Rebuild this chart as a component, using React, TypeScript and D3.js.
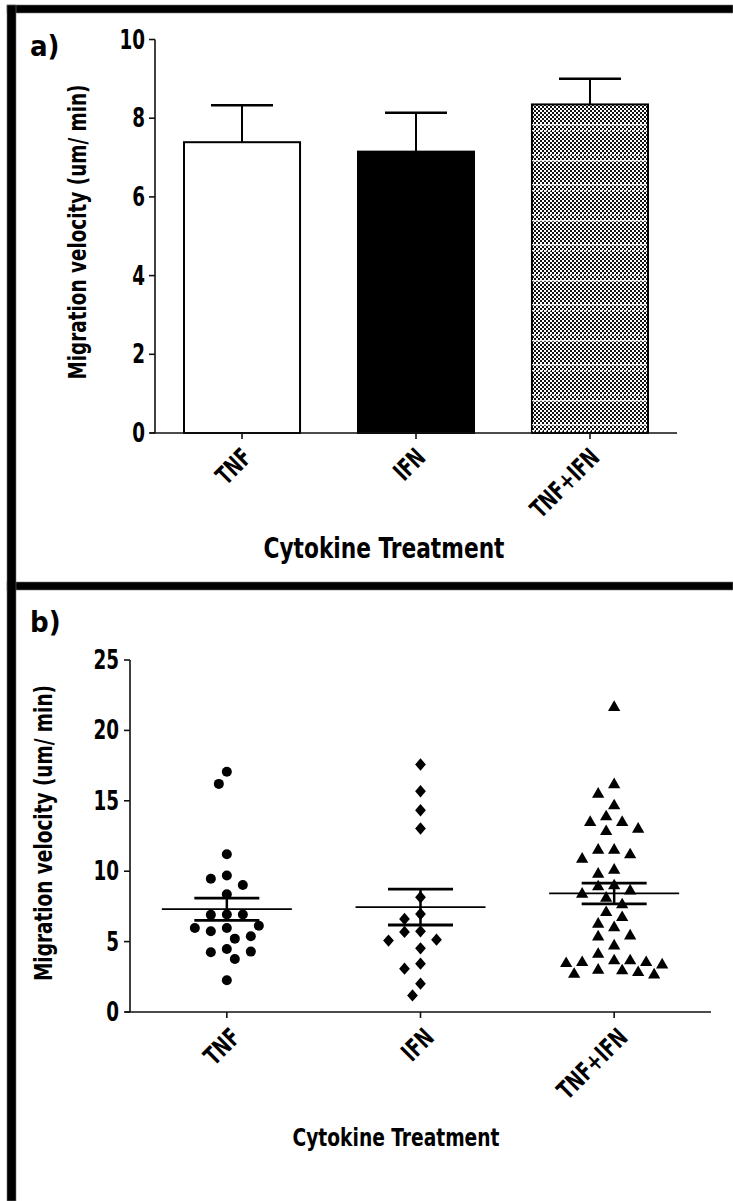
import React from 'react'
import * as d3 from 'd3'

const categories = ['TNF', 'IFN', 'TNF+IFN']

// panel a: bar means and upper error
const barMeans = [7.39, 7.15, 8.35]
const barErrors = [0.94, 0.99, 0.65]
const barTicks = [0, 2, 4, 6, 8, 10]

// panel b: individual cell velocities
const tnfValues = [17.06, 16.2, 11.2, 9.69, 9.47, 9.02, 8.36, 6.92, 6.9, 6.93, 5.97, 5.73, 5.21, 5.38, 5.97, 6.13, 4.48, 4.24, 3.77, 4.29, 2.25]
const ifnValues = [17.58, 15.68, 14.33, 13.03, 8.15, 6.96, 6.61, 5.73, 5.69, 5.14, 5.07, 4.52, 3.43, 3.08, 2.01, 1.18]
const comboValues = [21.72, 16.23, 15.56, 14.73, 13.95, 13.55, 13.55, 13.07, 12.9, 11.58, 11.58, 11.25, 10.94, 10.16, 9.88, 9.05, 8.98, 8.69, 8.46, 8.17, 7.7, 7.15, 6.8, 6.33, 6.08, 5.49, 5.42, 4.78, 4.19, 3.72, 3.72, 3.6, 3.6, 3.53, 3.43, 3.06, 3.01, 2.89, 2.77, 2.72]
const scatterMeans = [7.3, 7.45, 8.42]
const scatterSems = [0.79, 1.27, 0.74]
const scatterTicks = [0, 5, 10, 15, 20, 25]

const font = "'Liberation Sans Narrow','DejaVu Sans Condensed','Arial Narrow',sans-serif"

const diamond = {
  draw(ctx, size) {
    const r = Math.sqrt(size) / 2
    ctx.moveTo(0, -r * 1.15)
    ctx.lineTo(r, 0)
    ctx.lineTo(0, r * 1.15)
    ctx.lineTo(-r, 0)
    ctx.closePath()
  }
}
const triangle = {
  draw(ctx, size) {
    const r = Math.sqrt(size) / 2
    ctx.moveTo(0, -r * 1.05)
    ctx.lineTo(r * 1.1, r * 0.85)
    ctx.lineTo(-r * 1.1, r * 0.85)
    ctx.closePath()
  }
}
const markers = [
  d3.symbol(d3.symbolCircle, Math.PI * 5 * 5)(),
  d3.symbol(diamond, 115)(),
  d3.symbol(triangle, 125)()
]

// simple beeswarm: greedy, half-slot steps
function swarm(values, y, step, d) {
  const placed = []
  return values.map(v => {
    const py = y(v)
    let dx = 0
    for (let i = 0; i < 40; i++) {
      const cands = i === 0 ? [0] : [-i * step, i * step]
      const ok = cands.find(c => placed.every(p => (p.dx - c) ** 2 + (p.y - py) ** 2 >= d * d))
      if (ok !== undefined) { dx = ok; break }
    }
    placed.push({ dx, y: py })
    return { v, dx, y: py }
  })
}

const PanelA = () => {
  const y = d3.scaleLinear().domain([0, 10]).range([433, 39.5])
  const x = d3.scaleBand().domain(categories).range([155, 677]).paddingInner(0.333).paddingOuter(0.1667)
  const x0 = 155
  const fills = ['#fff', '#000', 'url(#dots)']
  return (
    <g>
      {categories.map((c, i) => (
        <g key={c}>
          <line x1={x(c) + x.bandwidth() / 2} x2={x(c) + x.bandwidth() / 2} y1={y(barMeans[i])} y2={y(barMeans[i] + barErrors[i])} stroke="#000" strokeWidth={2} />
          <line x1={x(c) + x.bandwidth() / 2 - 31} x2={x(c) + x.bandwidth() / 2 + 31} y1={y(barMeans[i] + barErrors[i])} y2={y(barMeans[i] + barErrors[i])} stroke="#000" strokeWidth={2.5} />
          <rect x={x(c)} y={y(barMeans[i])} width={x.bandwidth()} height={y(0) - y(barMeans[i])} fill={fills[i]} stroke="#000" strokeWidth={2} />
          {i === 2 && <rect x={x(c)} y={y(barMeans[i])} width={x.bandwidth()} height={y(0) - y(barMeans[i])} fill="url(#stripes)" />}
        </g>
      ))}
      <line x1={x0} x2={x0} y1={y(10)} y2={y(0)} stroke="#111" strokeWidth={1.6} />
      <line x1={x0 - 5} x2={677} y1={y(0)} y2={y(0)} stroke="#111" strokeWidth={1.6} />
      {barTicks.map(t => (
        <g key={t}>
          <line x1={x0 - 6} x2={x0} y1={y(t)} y2={y(t)} stroke="#111" strokeWidth={1.6} />
          <text transform={`translate(${x0 - 10},${y(t) + 9}) scale(0.85,1.08)`} textAnchor="end" fontSize={24} fontWeight="bold" fontFamily={font}>{t}</text>
        </g>
      ))}
      {categories.map(c => {
        const cx = x(c) + x.bandwidth() / 2
        return (
          <g key={c}>
            <line x1={cx} x2={cx} y1={y(0)} y2={y(0) + 6} stroke="#111" strokeWidth={1.6} />
            <text transform={`translate(${cx + 11},${y(0) + 26}) rotate(-45) scale(0.8,1.05)`} textAnchor="end" fontSize={24} fontWeight="bold" fontFamily={font}>{c}</text>
          </g>
        )
      })}
      <text transform="translate(86,232) rotate(-90)" textAnchor="middle" fontSize={25} fontWeight="bold" fontFamily={font} textLength={295} lengthAdjust="spacingAndGlyphs">Migration velocity (um/ min)</text>
      <text x={384} y={558} textAnchor="middle" fontSize={28} fontWeight="bold" fontFamily={font} textLength={241} lengthAdjust="spacingAndGlyphs">Cytokine Treatment</text>
      <text x={30} y={56} fontSize={29} fontWeight="bold" fontFamily={font}>a)</text>
    </g>
  )
}

const PanelB = () => {
  const y = d3.scaleLinear().domain([0, 25]).range([1012, 660])
  const x = d3.scaleBand().domain(categories).range([130, 711])
  const x0 = 130
  const groups = [tnfValues, ifnValues, comboValues]
  return (
    <g>
      {categories.map((c, i) => {
        const cx = x(c) + x.bandwidth() / 2
        const pts = swarm(groups[i], y, 8, 12.5)
        const m = scatterMeans[i], s = scatterSems[i]
        return (
          <g key={c}>
            {pts.map((p, j) => (
              <path key={j} d={markers[i]} transform={`translate(${cx + p.dx},${p.y})`} fill="#000" />
            ))}
            <line x1={cx - 65} x2={cx + 65} y1={y(m)} y2={y(m)} stroke="#000" strokeWidth={1.8} />
            <line x1={cx} x2={cx} y1={y(m - s)} y2={y(m + s)} stroke="#000" strokeWidth={2.5} />
            <line x1={cx - 32.5} x2={cx + 32.5} y1={y(m + s)} y2={y(m + s)} stroke="#000" strokeWidth={2.8} />
            <line x1={cx - 32.5} x2={cx + 32.5} y1={y(m - s)} y2={y(m - s)} stroke="#000" strokeWidth={2.8} />
          </g>
        )
      })}
      <line x1={x0} x2={x0} y1={y(25)} y2={y(0)} stroke="#111" strokeWidth={1.6} />
      <line x1={x0 - 5} x2={711} y1={y(0)} y2={y(0)} stroke="#111" strokeWidth={1.6} />
      {scatterTicks.map(t => (
        <g key={t}>
          <line x1={x0 - 6} x2={x0} y1={y(t)} y2={y(t)} stroke="#111" strokeWidth={1.6} />
          <text transform={`translate(${x0 - 11},${y(t) + 9}) scale(0.85,1.1)`} textAnchor="end" fontSize={24} fontWeight="bold" fontFamily={font}>{t}</text>
        </g>
      ))}
      {categories.map(c => {
        const cx = x(c) + x.bandwidth() / 2
        return (
          <g key={c}>
            <line x1={cx} x2={cx} y1={y(0)} y2={y(0) + 6} stroke="#111" strokeWidth={1.6} />
            <text transform={`translate(${cx + 15},${y(0) + 27}) rotate(-45) scale(0.82,1.05)`} textAnchor="end" fontSize={24} fontWeight="bold" fontFamily={font}>{c}</text>
          </g>
        )
      })}
      <text transform="translate(52,833) rotate(-90)" textAnchor="middle" fontSize={24} fontWeight="bold" fontFamily={font} textLength={296} lengthAdjust="spacingAndGlyphs">Migration velocity (um/ min)</text>
      <text x={396} y={1146} textAnchor="middle" fontSize={25} fontWeight="bold" fontFamily={font} textLength={207} lengthAdjust="spacingAndGlyphs">Cytokine Treatment</text>
      <text x={30} y={632} fontSize={29} fontWeight="bold" fontFamily={font}>b)</text>
    </g>
  )
}

export default function App() {
  return (
    <svg width={733} height={1201} viewBox="0 0 733 1201" style={{ position: 'absolute', left: 0, top: 0, display: 'block', background: '#fff' }}>
      <defs>
        <pattern id="dots" width={4} height={4} patternUnits="userSpaceOnUse">
          <rect width={4} height={4} fill="#fff" />
          <rect x={0} y={0} width={2} height={2} fill="#111" />
          <rect x={2} y={2} width={2} height={2} fill="#111" />
        </pattern>
        <pattern id="stripes" width={4} height={30} patternUnits="userSpaceOnUse">
          <rect x={0} y={4} width={3} height={1.3} fill="#fff" opacity={0.85} />
          <rect x={0} y={10} width={3} height={1.3} fill="#fff" opacity={0.85} />
        </pattern>
      </defs>
      <rect x={0} y={0} width={733} height={1201} fill="#fff" />
      <PanelA />
      <PanelB />
      <rect x={7} y={5} width={726} height={8} fill="#000" stroke="#777" strokeWidth={0.6} />
      <rect x={7} y={582} width={726} height={8} fill="#000" stroke="#777" strokeWidth={0.6} />
      <rect x={7} y={5} width={9} height={1196} fill="#000" stroke="#777" strokeWidth={0.6} />
    </svg>
  )
}
